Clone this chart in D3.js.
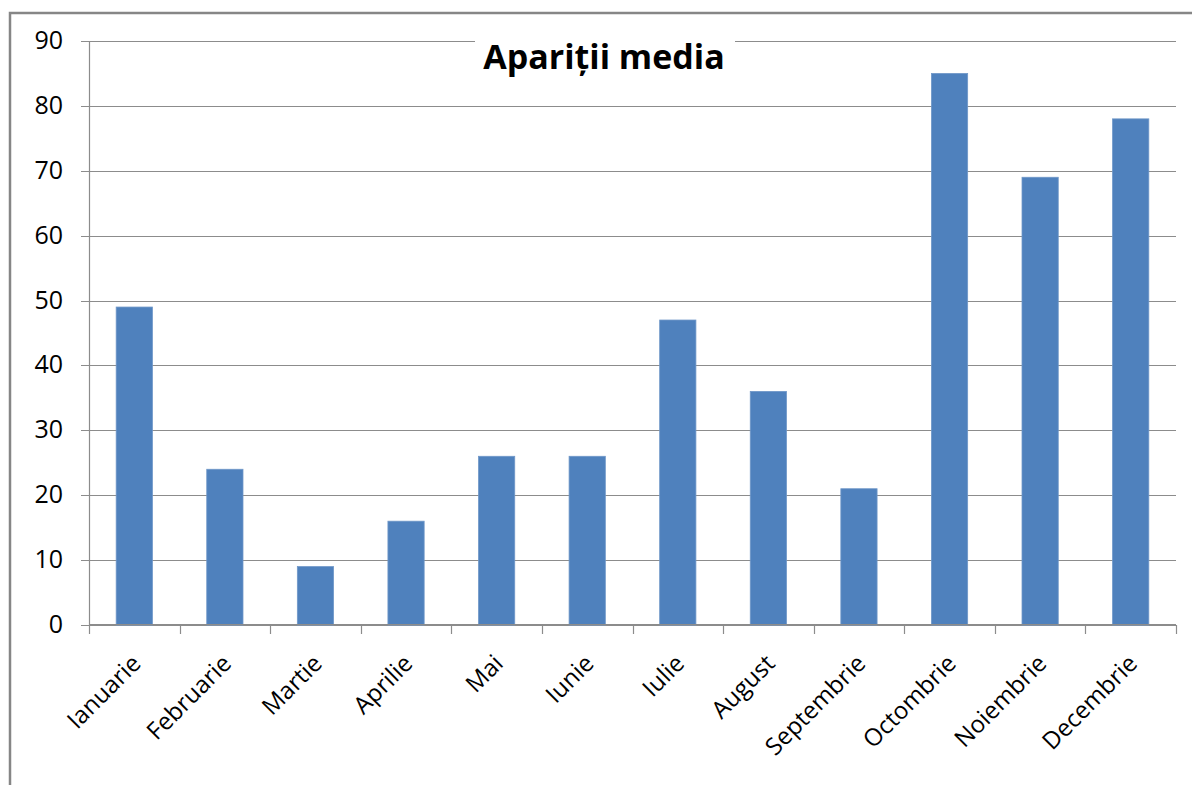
<!DOCTYPE html>
<html><head><meta charset="utf-8">
<script src="https://cdn.jsdelivr.net/npm/d3@7"></script>
<style>body{margin:0;background:#fff}svg{display:block}text{font-family:"Open Sans","Noto Sans",sans-serif}</style>
</head><body><svg id="c" width="1192" height="785"></svg>
<script>
const categories=["Ianuarie","Februarie","Martie","Aprilie","Mai","Iunie","Iulie","August","Septembrie","Octombrie","Noiembrie","Decembrie"];
const values=[49,24,9,16,26,26,47,36,21,85,69,78];
const yTicks=[0,10,20,30,40,50,60,70,80,90];
const title="Apariții media";

const svg=d3.select("#c");
const m={l:89,r:1176,t:41,b:625};
// frame
svg.append("path").attr("d","M10,800 L10,13 L1200,13").attr("fill","none").attr("stroke","#868686").attr("stroke-width",2.5);
const x=d3.scaleBand().domain(categories).range([m.l,m.r]).paddingInner(0.6).paddingOuter(0.3);
const xb=d3.scaleBand().domain(categories).range([m.l,m.r]);
const y=d3.scaleLinear().domain([0,90]).range([m.b,m.t]);
// gridlines
svg.append("g").selectAll("line").data(yTicks).join("line")
 .attr("x1",m.l-8).attr("x2",m.r).attr("y1",d=>Math.round(y(d))+0.5).attr("y2",d=>Math.round(y(d))+0.5)
 .attr("stroke","#8c8c8c").attr("stroke-width",1.2);
svg.append("g").selectAll("text").data(yTicks).join("text")
 .attr("x",63).attr("y",d=>y(d)+8).attr("text-anchor","end").attr("font-size",25).attr("fill","#000").text(d=>d);
// bars
svg.append("g").selectAll("rect").data(values).join("rect")
 .attr("x",(d,i)=>x(categories[i])).attr("width",x.bandwidth())
 .attr("y",d=>y(d)).attr("height",d=>y(0)-y(d)).attr("fill","#4f81bd").attr("stroke","#6f97c8").attr("stroke-width",0.8);
// axes
svg.append("line").attr("x1",m.l+0.5).attr("x2",m.l+0.5).attr("y1",m.t).attr("y2",m.b).attr("stroke","#8c8c8c").attr("stroke-width",1.2);
svg.append("line").attr("x1",m.l).attr("x2",m.r).attr("y1",m.b-0.5).attr("y2",m.b-0.5).attr("stroke","#8c8c8c").attr("stroke-width",1.2);
const bounds=categories.map(c=>xb(c)).concat([m.r]);
svg.append("g").selectAll("line").data(bounds).join("line")
 .attr("x1",d=>Math.round(d)+0.5).attr("x2",d=>Math.round(d)+0.5).attr("y1",m.b).attr("y2",m.b+9).attr("stroke","#8c8c8c").attr("stroke-width",1.2);
svg.append("g").selectAll("text").data(categories).join("text")
 .attr("transform",c=>`translate(${xb(c)+xb.bandwidth()/2+8},${m.b+40}) rotate(-45)`)
 .attr("text-anchor","end").attr("font-size",24).attr("fill","#000").text(c=>c);
// title
svg.append("rect").attr("x",475).attr("y",30).attr("width",260).attr("height",50).attr("fill","#fff");
svg.append("text").attr("x",604).attr("y",69).attr("text-anchor","middle").attr("font-size",34).attr("font-weight","bold").attr("fill","#000").text(title);
</script></body></html>
